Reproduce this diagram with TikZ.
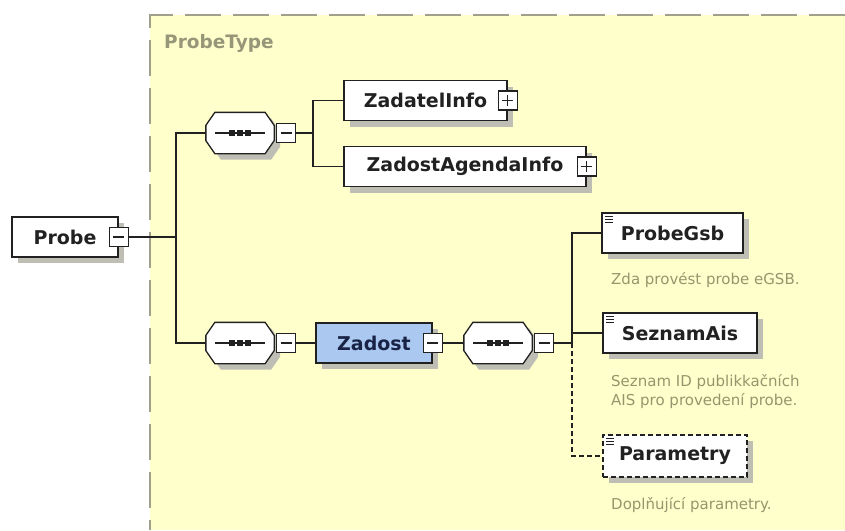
\documentclass[tikz,border=0pt]{standalone}
\usepackage{fontspec}
\setmainfont{DejaVu Sans}
\usetikzlibrary{shadows, positioning}
\definecolor{paneyellow}{RGB}{255, 255, 204}
\definecolor{paneedge}{RGB}{160, 160, 140}
\definecolor{typegray}{RGB}{150, 150, 120}
\definecolor{notegray}{RGB}{150, 150, 110}
\definecolor{shadowgray}{RGB}{190, 190, 180}
\definecolor{zadostblue}{RGB}{170, 200, 240}
\definecolor{textdark}{RGB}{33, 33, 33}

% octagon used for the sequence compositors
\makeatletter
\pgfdeclareshape{seqoctagon}{%
  \inheritsavedanchors[from=rectangle]
  \inheritanchorborder[from=rectangle]
  \inheritanchor[from=rectangle]{center}
  \inheritanchor[from=rectangle]{north}
  \inheritanchor[from=rectangle]{south}
  \inheritanchor[from=rectangle]{east}
  \inheritanchor[from=rectangle]{west}
  \backgroundpath{%
    \southwest \edef\octxa{\the\pgf@x}\edef\octya{\the\pgf@y}%
    \northeast \edef\octxb{\the\pgf@x}\edef\octyb{\the\pgf@y}%
    \pgfpathmoveto{\pgfpoint{\octxa+9pt}{\octya}}%
    \pgfpathlineto{\pgfpoint{\octxb-9pt}{\octya}}%
    \pgfpathlineto{\pgfpoint{\octxb}{\octya+13pt}}%
    \pgfpathlineto{\pgfpoint{\octxb}{\octyb-13pt}}%
    \pgfpathlineto{\pgfpoint{\octxb-9pt}{\octyb}}%
    \pgfpathlineto{\pgfpoint{\octxa+9pt}{\octyb}}%
    \pgfpathlineto{\pgfpoint{\octxa}{\octyb-13pt}}%
    \pgfpathlineto{\pgfpoint{\octxa}{\octya+13pt}}%
    \pgfpathclose
  }
}
\makeatother

\begin{document}
\begin{tikzpicture}[
    x=1pt, y=-1pt,
    elem/.style={rectangle, draw=textdark, fill=white, line width=1.3pt, minimum height=40pt, inner sep=0pt, font=\bfseries\fontsize{19}{22}\selectfont, text=textdark, drop shadow={shadow xshift=6pt, shadow yshift=-6pt, fill=shadowgray, opacity=1}},
    simple/.style={elem, path picture={\foreach \k in {0,1,2} \draw[textdark, solid, line width=0.8pt] ([xshift=3pt, yshift=-3.5pt-\k*2.8pt]path picture bounding box.north west) -- ++(8pt,0);}},
    seqbox/.style={seqoctagon, draw=textdark, fill=white, line width=1.3pt, minimum width=67pt, minimum height=40pt, inner sep=0pt, drop shadow={shadow xshift=6pt, shadow yshift=-6pt, fill=shadowgray, opacity=1},
        path picture={\draw[textdark, line width=1.2pt] ([xshift=9pt]path picture bounding box.west) -- ([xshift=-9pt]path picture bounding box.east);
            \foreach \d in {-8,0,8} \fill[textdark] ([xshift=\d pt-3pt, yshift=-3pt]path picture bounding box.center) rectangle ++(6pt,6pt);}},
    fold/.style={rectangle, draw=textdark, fill=white, line width=1.1pt, minimum size=19pt, inner sep=0pt},
    foldminus/.style={fold, path picture={\draw[textdark, line width=1.1pt] ([xshift=4pt]path picture bounding box.west) -- ([xshift=-4pt]path picture bounding box.east);}},
    foldplus/.style={fold, path picture={\draw[textdark, line width=1.1pt] ([xshift=4pt]path picture bounding box.west) -- ([xshift=-4pt]path picture bounding box.east);
            \draw[textdark, line width=1.1pt] ([yshift=-4pt]path picture bounding box.north) -- ([yshift=4pt]path picture bounding box.south);}},
    note/.style={font=\fontsize{15}{19}\selectfont, text=notegray, align=left, inner sep=0pt},
    link/.style={draw=textdark, line width=1.2pt},
    optional/.style={dash pattern=on 5pt off 3pt},
]
\useasboundingbox (0,0) rectangle (845,530);

% ProbeType pane
\fill[paneyellow] (150,15) rectangle (845,530);
\draw[paneedge, line width=2pt, dash pattern=on 36pt off 12pt] (845,15) -- (150,15) -- (150,530);
\node[anchor=west, inner sep=0pt, font=\bfseries\fontsize{18.5}{20}\selectfont, text=typegray] (typelabel) at (164,43) {ProbeType};

% Probe root
\node[elem, minimum width=106pt] (probe) at (65,237) {Probe};
\node[foldminus] (probefold) at (probe.east) {};
\coordinate (trunk) at (176,237);

% first sequence
\node[seqbox] (seqtop) at (240,133) {};
\node[foldminus, right=2pt of seqtop] (seqtopfold) {};
\coordinate (topfork) at (313,133);
\node[elem, minimum width=163pt] (zadatel) at (425.5,100.5) {ZadatelInfo};
\node[foldplus] (zadatelfold) at (zadatel.east) {};
\node[elem, minimum width=242pt] (agenda) at (465,166.5) {ZadostAgendaInfo};
\node[foldplus] (agendafold) at (agenda.east) {};

% second sequence with Zadost
\node[seqbox] (seqlow) at (240,343) {};
\node[foldminus, right=2pt of seqlow] (seqlowfold) {};
\node[elem, fill=zadostblue, minimum width=116pt, text={rgb,255:red,25;green,35;blue,70}] (zadost) at (374,343) {Zadost};
\node[foldminus] (zadostfold) at (zadost.east) {};
\node[seqbox] (seqinner) at (498,343) {};
\node[foldminus, right=2pt of seqinner] (seqinnerfold) {};
\coordinate (lowfork) at (572,343);

% Zadost children
\node[simple, minimum width=141pt] (gsb) at (672.5,233) {ProbeGsb};
\node[note, anchor=west] (gsbnote) at (611,280) {Zda provést probe eGSB.};
\node[simple, minimum width=154pt] (ais) at (680,333) {SeznamAis};
\node[note, anchor=west] (aisnote) at (611,392) {Seznam ID publikkačních\\AIS pro provedení probe.};
\node[simple, optional, minimum width=144pt, minimum height=42pt] (params) at (675,456) {Parametry};
\node[note, anchor=west] (paramsnote) at (611,505) {Doplňující parametry.};

% connectors
\draw[link] (probefold) -- (trunk);
\draw[link] (seqtop.west) -| (trunk) |- (seqlow.west);
\draw[link] (seqtopfold) -- (topfork);
\draw[link] (zadatel.west) -| (topfork) |- (agenda.west);
\draw[link] (seqlowfold) -- (zadost);
\draw[link] (zadostfold) -- (seqinner);
\draw[link] (seqinnerfold) -- (lowfork);
\draw[link] (gsb.west) -| (lowfork);
\draw[link] (ais.west) -| (lowfork);
\draw[link, optional] (lowfork) |- (params.west);

\end{tikzpicture}
\end{document}
